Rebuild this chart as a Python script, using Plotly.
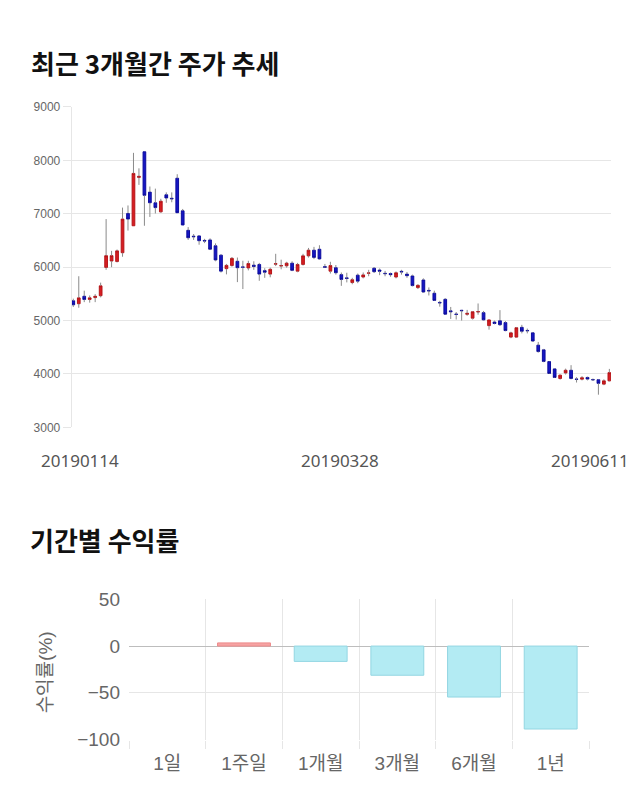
import plotly.graph_objects as go

# ---------------- data ----------------
opens = [5370,5315,5455,5395,5430,5465,5995,6115,6105,6270,
         7005,6775,7680,8160,7405,7205,7035,7355,7290,7665,
         7055,6690,6580,6585,6500,6510,6400,6225,5972,6030,
         6110,6005,5985,6038,6050,5935,5870,6055,6020,6025,
         6075,5925,6050,6212,6318,6335,6010,5925,5990,5860,
         5800,5712,5850,5815,5885,5980,5945,5885,5880,5815,
         5922,5870,5835,5617,5760,5565,5512,5340,5398,5182,
         5122,5192,5117,5045,5160,5148,4905,4972,4996,4962,
         4690,4690,4873,4815,4770,4540,4452,4232,4095,3915,
         4020,4070,3905,3902,3935,3895,3892,3810,3872]
highs = [5410,5830,5560,5470,5495,5710,6900,6305,6330,7115,
         7155,8140,7850,8165,7510,7470,7280,7400,7400,7740,
         7090,6750,6620,6600,6530,6540,6445,6240,6060,6190,
         6180,6120,6120,6110,6080,5980,5990,6250,6140,6100,
         6110,6080,6250,6360,6380,6410,6060,6100,6040,5900,
         5895,5800,5880,5900,5950,6000,5975,5930,5900,5920,
         5950,5910,5860,5680,5790,5620,5560,5370,5420,5255,
         5160,5200,5200,5175,5320,5180,5015,5000,5195,4990,
         4790,4880,4920,4850,4780,4600,4470,4240,4110,3990,
         4100,4165,3940,3960,3950,3915,3900,3900,4095]
lows = [5255,5240,5345,5335,5345,5435,5950,6000,6090,6195,
        6685,6775,7540,6775,6940,7005,7020,7205,7215,7020,
        6790,6510,6510,6420,6450,6320,6110,5900,5865,6010,
        5720,5590,5940,5950,5745,5800,5810,6020,5960,5990,
        5925,5905,6030,6180,6150,6140,5985,5880,5860,5650,
        5715,5680,5700,5790,5830,5890,5850,5830,5820,5790,
        5860,5800,5640,5590,5520,5470,5370,5260,5115,5030,
        5020,5000,5090,5020,5110,5000,4830,4930,4900,4800,
        4670,4680,4760,4760,4600,4400,4220,4000,3925,3895,
        3990,3900,3840,3880,3880,3870,3612,3790,3860]
closes = [5295,5425,5395,5425,5455,5650,6215,6215,6305,6900,
          6900,7755,7700,7345,7205,7115,7235,7295,7280,7020,
          6790,6550,6570,6495,6490,6335,6135,5925,6033,6165,
          5990,5998,6068,6012,5870,5905,5960,6065,6030,6075,
          5940,6050,6212,6318,6182,6155,5998,6030,5895,5770,
          5788,5765,5738,5855,5892,5915,5925,5878,5860,5895,
          5912,5840,5655,5660,5535,5555,5378,5332,5120,5166,
          5115,5185,5135,5165,5168,5014,5012,4945,4922,4813,
          4770,4866,4800,4810,4617,4420,4235,4010,3935,3978,
          4070,3915,3900,3930,3905,3892,3825,3872,4025]

tick_labels = ["20190114", "20190328", "20190611"]
tick_index = [0, 49, 98]
tick_shift = [7, -1, -19]

periods = ["1일", "1주일", "1개월", "3개월", "6개월", "1년"]
returns = [0.0, 3.4, -16.4, -31.2, -54.5, -88.7]

# ---------------- figure ----------------
W, H = 640, 810
idx = list(range(len(opens)))
body_lo = [min(o, c) for o, c in zip(opens, closes)]
body_hi = [max(o, c) for o, c in zip(opens, closes)]

wx, wy = [], []
for i in idx:
    wx += [i, i, None, i, i, None]
    wy += [lows[i], body_lo[i], None, body_hi[i], highs[i], None]

fig = go.Figure()
fig.add_trace(go.Scatter(x=wx, y=wy, mode="lines", xaxis="x", yaxis="y",
                         line=dict(color="#8a8a8a", width=1),
                         hoverinfo="skip", showlegend=False))
fig.add_trace(go.Candlestick(
    x=idx, open=opens, high=body_hi, low=body_lo, close=closes,
    xaxis="x", yaxis="y", showlegend=False,
    increasing=dict(line=dict(color="#b51418", width=1), fillcolor="#d71e22"),
    decreasing=dict(line=dict(color="#0c0c9c", width=1), fillcolor="#1616c4"),
))

def bar_fill(v):
    return "#f5a3a3" if v > 0 else ("#b3ebf3" if v < 0 else "rgba(0,0,0,0)")

def bar_edge(v):
    return "#ee8a8a" if v > 0 else ("#93d6e2" if v < 0 else "rgba(0,0,0,0)")

fig.add_trace(go.Bar(x=periods, y=returns, xaxis="x2", yaxis="y2",
                     marker=dict(color=[bar_fill(v) for v in returns],
                                 line=dict(color=[bar_edge(v) for v in returns], width=1)),
                     showlegend=False))

x0_px, step = 73.3, 5.47
lo_i, hi_i = -0.3, 98.3
xd0 = (x0_px + lo_i * step) / W
xd1 = (x0_px + hi_i * step) / W

grid = "#e6e6e6"
fig.update_layout(
    width=W, height=H, autosize=False,
    margin=dict(l=0, r=0, t=0, b=0),
    paper_bgcolor="white", plot_bgcolor="white",
    bargap=0.31,
    xaxis=dict(domain=[xd0, xd1], range=[lo_i, hi_i], showgrid=False,
               showticklabels=False, zeroline=False, rangeslider=dict(visible=False),
               anchor="y", fixedrange=True),
    yaxis=dict(domain=[1 - 428.5 / H, 1 - 99.5 / H], range=[3000, 9000],
               tickvals=[3000, 4000, 5000, 6000, 7000, 8000, 9000],
               showgrid=True, gridcolor=grid, gridwidth=1, zeroline=False,
               showline=True, linecolor=grid, linewidth=1,
               ticks="outside", ticklen=8, tickcolor=grid,
               tickfont=dict(family="Liberation Sans, Arial, sans-serif", size=12, color="#666666"),
               anchor="x"),
    xaxis2=dict(domain=[129 / W, 589 / W], anchor="y2", type="category",
                showgrid=True, gridcolor=grid, tickson="boundaries",
                ticks="outside", ticklen=8, tickcolor=grid, ticklabelstandoff=10,
                tickfont=dict(family="Liberation Sans, Noto Sans CJK KR, sans-serif", size=19, color="#666666"),
                showline=False, zeroline=False),
    yaxis2=dict(domain=[1 - 749 / H, 1 - 605 / H], anchor="x2", range=[-100, 50],
                tickvals=[-100, -50, 0, 50], showgrid=True, gridcolor=grid,
                zeroline=True, zerolinecolor="#bdbdbd", zerolinewidth=1,
                ticks="", ticklabelstandoff=8,
                tickfont=dict(family="Liberation Sans, Arial, sans-serif", size=19, color="#666666")),
)

ann = []
ann.append(dict(text="최근 3개월간 주가 추세", x=29 / W, y=1 - 54 / H, xref="paper", yref="paper",
                xanchor="left", yanchor="middle", showarrow=False,
                font=dict(family="Noto Sans CJK KR", size=26, color="#111111", weight="bold")))
ann.append(dict(text="기간별 수익률", x=28 / W, y=1 - 544 / H, xref="paper", yref="paper",
                xanchor="left", yanchor="middle", showarrow=False,
                font=dict(family="Noto Sans CJK KR", size=26, color="#111111", weight="bold")))
for lab, i, sh in zip(tick_labels, tick_index, tick_shift):
    ann.append(dict(text=lab, x=i, xref="x", y=1 - 462 / H, yref="paper",
                    xanchor="center", yanchor="middle", xshift=sh, showarrow=False,
                    font=dict(family="Noto Sans", size=17, color="#555555")))
ann.append(dict(text="수익률(%)", x=45 / W, y=1 - 680 / H, xref="paper", yref="paper",
                textangle=-90, xanchor="center", yanchor="middle", showarrow=False,
                font=dict(family="Liberation Sans, Noto Sans CJK KR", size=19, color="#666666")))
fig.update_layout(annotations=ann)

fig.write_html("out.html")
